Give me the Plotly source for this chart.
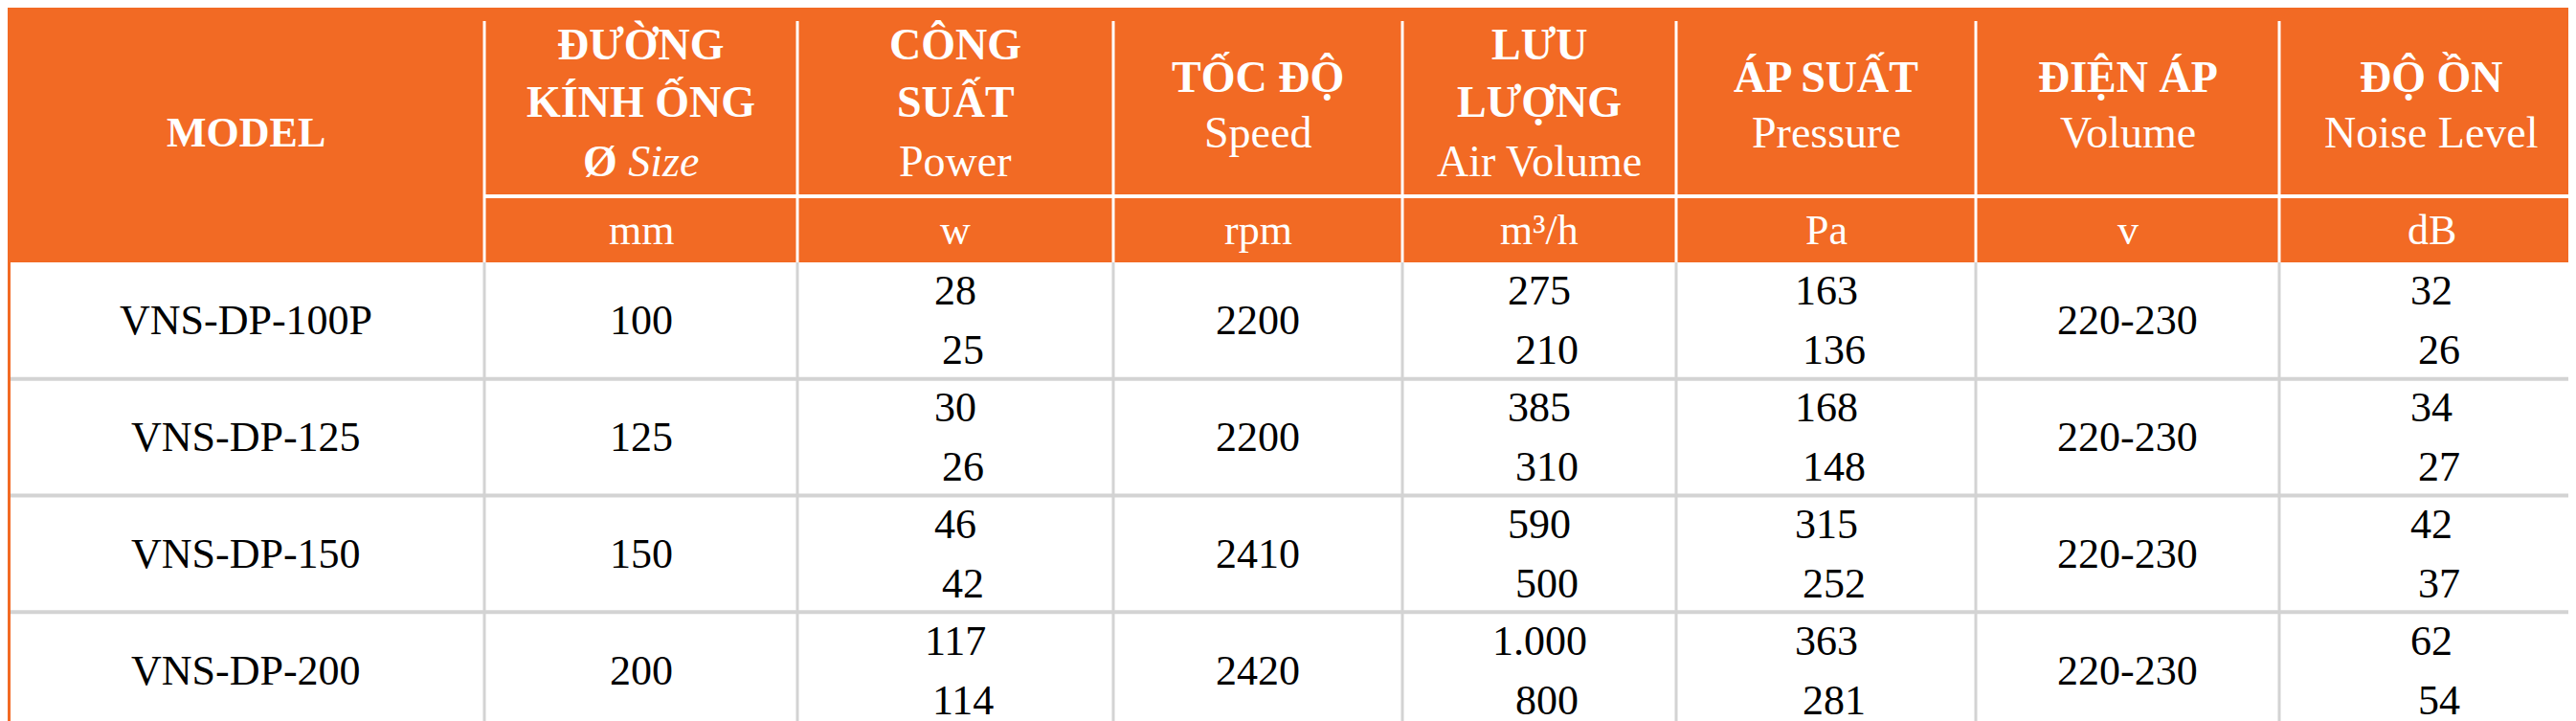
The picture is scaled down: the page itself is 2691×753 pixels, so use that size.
import plotly.graph_objects as go

# table data
models = ["VNS-DP-100P", "VNS-DP-125", "VNS-DP-150", "VNS-DP-200"]
sizes = ["100", "125", "150", "200"]
power = [["28", "25"], ["30", "26"], ["46", "42"], ["117", "114"]]
speed = ["2200", "2200", "2410", "2420"]
air_volume = [["275", "210"], ["385", "310"], ["590", "500"], ["1.000", "800"]]
pressure = [["163", "136"], ["168", "148"], ["315", "252"], ["363", "281"]]
voltage = ["220-230", "220-230", "220-230", "220-230"]
noise = [["32", "26"], ["34", "27"], ["42", "37"], ["62", "54"]]

headers = [
    ["<b>ĐƯỜNG</b>", "<b>KÍNH ỐNG</b>", "<b>Ø</b> <i>Size</i>"],
    ["<b>CÔNG</b>", "<b>SUẤT</b>", "Power"],
    ["<b>TỐC ĐỘ</b>", "Speed"],
    ["<b>LƯU</b>", "<b>LƯỢNG</b>", "Air Volume"],
    ["<b>ÁP SUẤT</b>", "Pressure"],
    ["<b>ĐIỆN ÁP</b>", "Volume"],
    ["<b>ĐỘ ỒN</b>", "Noise Level"],
]
units = ["mm", "w", "rpm", "m³/h", "Pa", "v", "dB"]

W, H = 2691, 753
ORANGE = "#F26A24"
cols = [0, 498, 825, 1155, 1457, 1743, 2056, 2373, 2691]
head_h, unit_y = 266, 197
row_h = (H - head_h) / 4
FONT = "Liberation Serif"

shapes, ann = [], []
shapes.append(dict(type="rect", x0=0, x1=W, y0=0, y1=head_h, fillcolor=ORANGE, line_width=0, layer="below"))
# body grid
for i in range(1, 4):
    y = head_h + row_h * i
    shapes.append(dict(type="line", x0=0, x1=W, y0=y, y1=y, line=dict(color="#D3D3D3", width=4)))
for x in cols[1:-1]:
    shapes.append(dict(type="line", x0=x, x1=x, y0=head_h, y1=H, line=dict(color="#D3D3D3", width=3)))
    shapes.append(dict(type="line", x0=x, x1=x, y0=14, y1=head_h, line=dict(color="white", width=3)))
shapes.append(dict(type="line", x0=cols[1], x1=W, y0=unit_y, y1=unit_y, line=dict(color="white", width=4)))
shapes.append(dict(type="rect", x0=1, x1=W - 1, y0=0, y1=H - 2, line=dict(color=ORANGE, width=4)))


def txt(x, y, s, size=44, color="black", xshift=0):
    ann.append(dict(x=x, y=y, text=s, showarrow=False, xshift=xshift,
                    font=dict(family=FONT, size=size, color=color)))


mid = [(cols[i] + cols[i + 1]) / 2 for i in range(8)]
txt(mid[0], 130, "<b>MODEL</b>", 44, "white")
for j, lines in enumerate(headers):
    ys = [38, 98, 160] if len(lines) == 3 else [72, 130]
    for y, s in zip(ys, lines):
        txt(mid[j + 1], y, s, 46, "white")
    txt(mid[j + 1], 232, units[j], 44, "white")

for i in range(4):
    c = head_h + row_h * (i + 0.5)
    txt(mid[0], c, models[i], 44)
    txt(mid[1], c, sizes[i], 44)
    txt(mid[3], c, speed[i], 44)
    txt(mid[6], c, voltage[i], 44)
    for k, vals in zip([2, 4, 5, 7], [power, air_volume, pressure, noise]):
        txt(mid[k], c - 31, vals[i][0], 44)
        txt(mid[k], c + 31, vals[i][1], 44, xshift=8)

fig = go.Figure()
fig.update_layout(width=W, height=H, margin=dict(l=0, r=0, t=0, b=0),
                  plot_bgcolor="white", paper_bgcolor="white",
                  shapes=shapes, annotations=ann, showlegend=False,
                  xaxis=dict(range=[0, W], visible=False, fixedrange=True),
                  yaxis=dict(range=[H, 0], visible=False, fixedrange=True))
fig.write_html("out.html")
